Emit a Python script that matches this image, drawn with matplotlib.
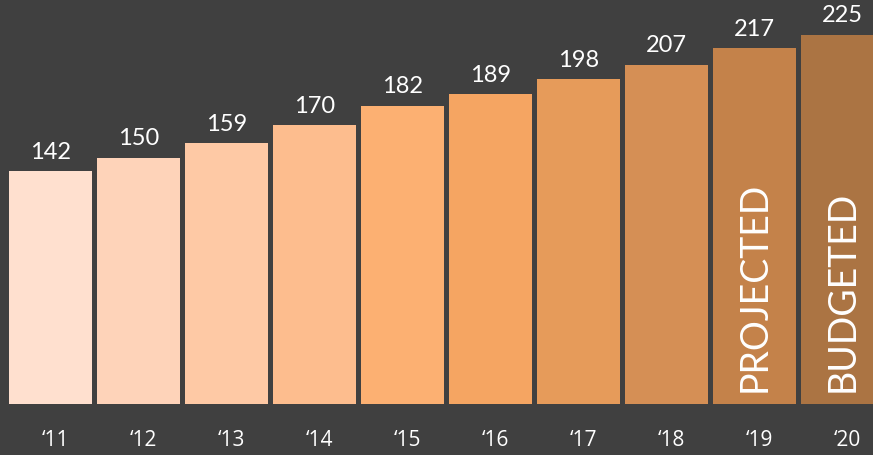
import matplotlib.pyplot as plt
import numpy as np

years = ["\u201811", "\u201812", "\u201813", "\u201814", "\u201815",
         "\u201816", "\u201817", "\u201818", "\u201819", "\u201820"]
values = [142, 150, 159, 170, 182, 189, 198, 207, 217, 225]
bar_notes = {8: "PROJECTED", 9: "BUDGETED"}
colors = ["#FFE0CF", "#FED3B9", "#FEC9A5", "#FDBD8E", "#FCB072",
          "#F5A562", "#E69B5A", "#D58F55", "#C4824A", "#AB7443"]

bg = "#404040"
fig = plt.figure(figsize=(8.73, 4.56), dpi=100, facecolor=bg)
# axes spans the plotting band above the year labels
ax = fig.add_axes([0, 51 / 456, 1, 405 / 456])
ax.set_facecolor(bg)

x = np.arange(len(values))
ax.bar(x, values, width=0.943, color=colors, linewidth=0)

ax.set_xlim(-0.574, 9.347)
ax.set_ylim(0, 247.1)
ax.axis("off")

for xi, v in zip(x, values):
    ax.annotate(str(v), (xi, v), xytext=(0, 7), textcoords="offset points",
                ha="center", va="bottom", color="white", fontsize=17,
                family="Lato")

for i, note in bar_notes.items():
    ax.annotate(note, (x[i], 0), xytext=(0, 9), textcoords="offset points",
                ha="center", va="bottom", rotation=90, color="white",
                fontsize=27, family="Lato")

for xi, lab in zip(x, years):
    fig.text((50.5 + 88 * xi + 5) / 873, 1 - 441 / 456, lab, ha="center",
             va="center", color="white", fontsize=15, family="Open Sans")

fig.savefig("out.png", dpi=100, facecolor=bg)
